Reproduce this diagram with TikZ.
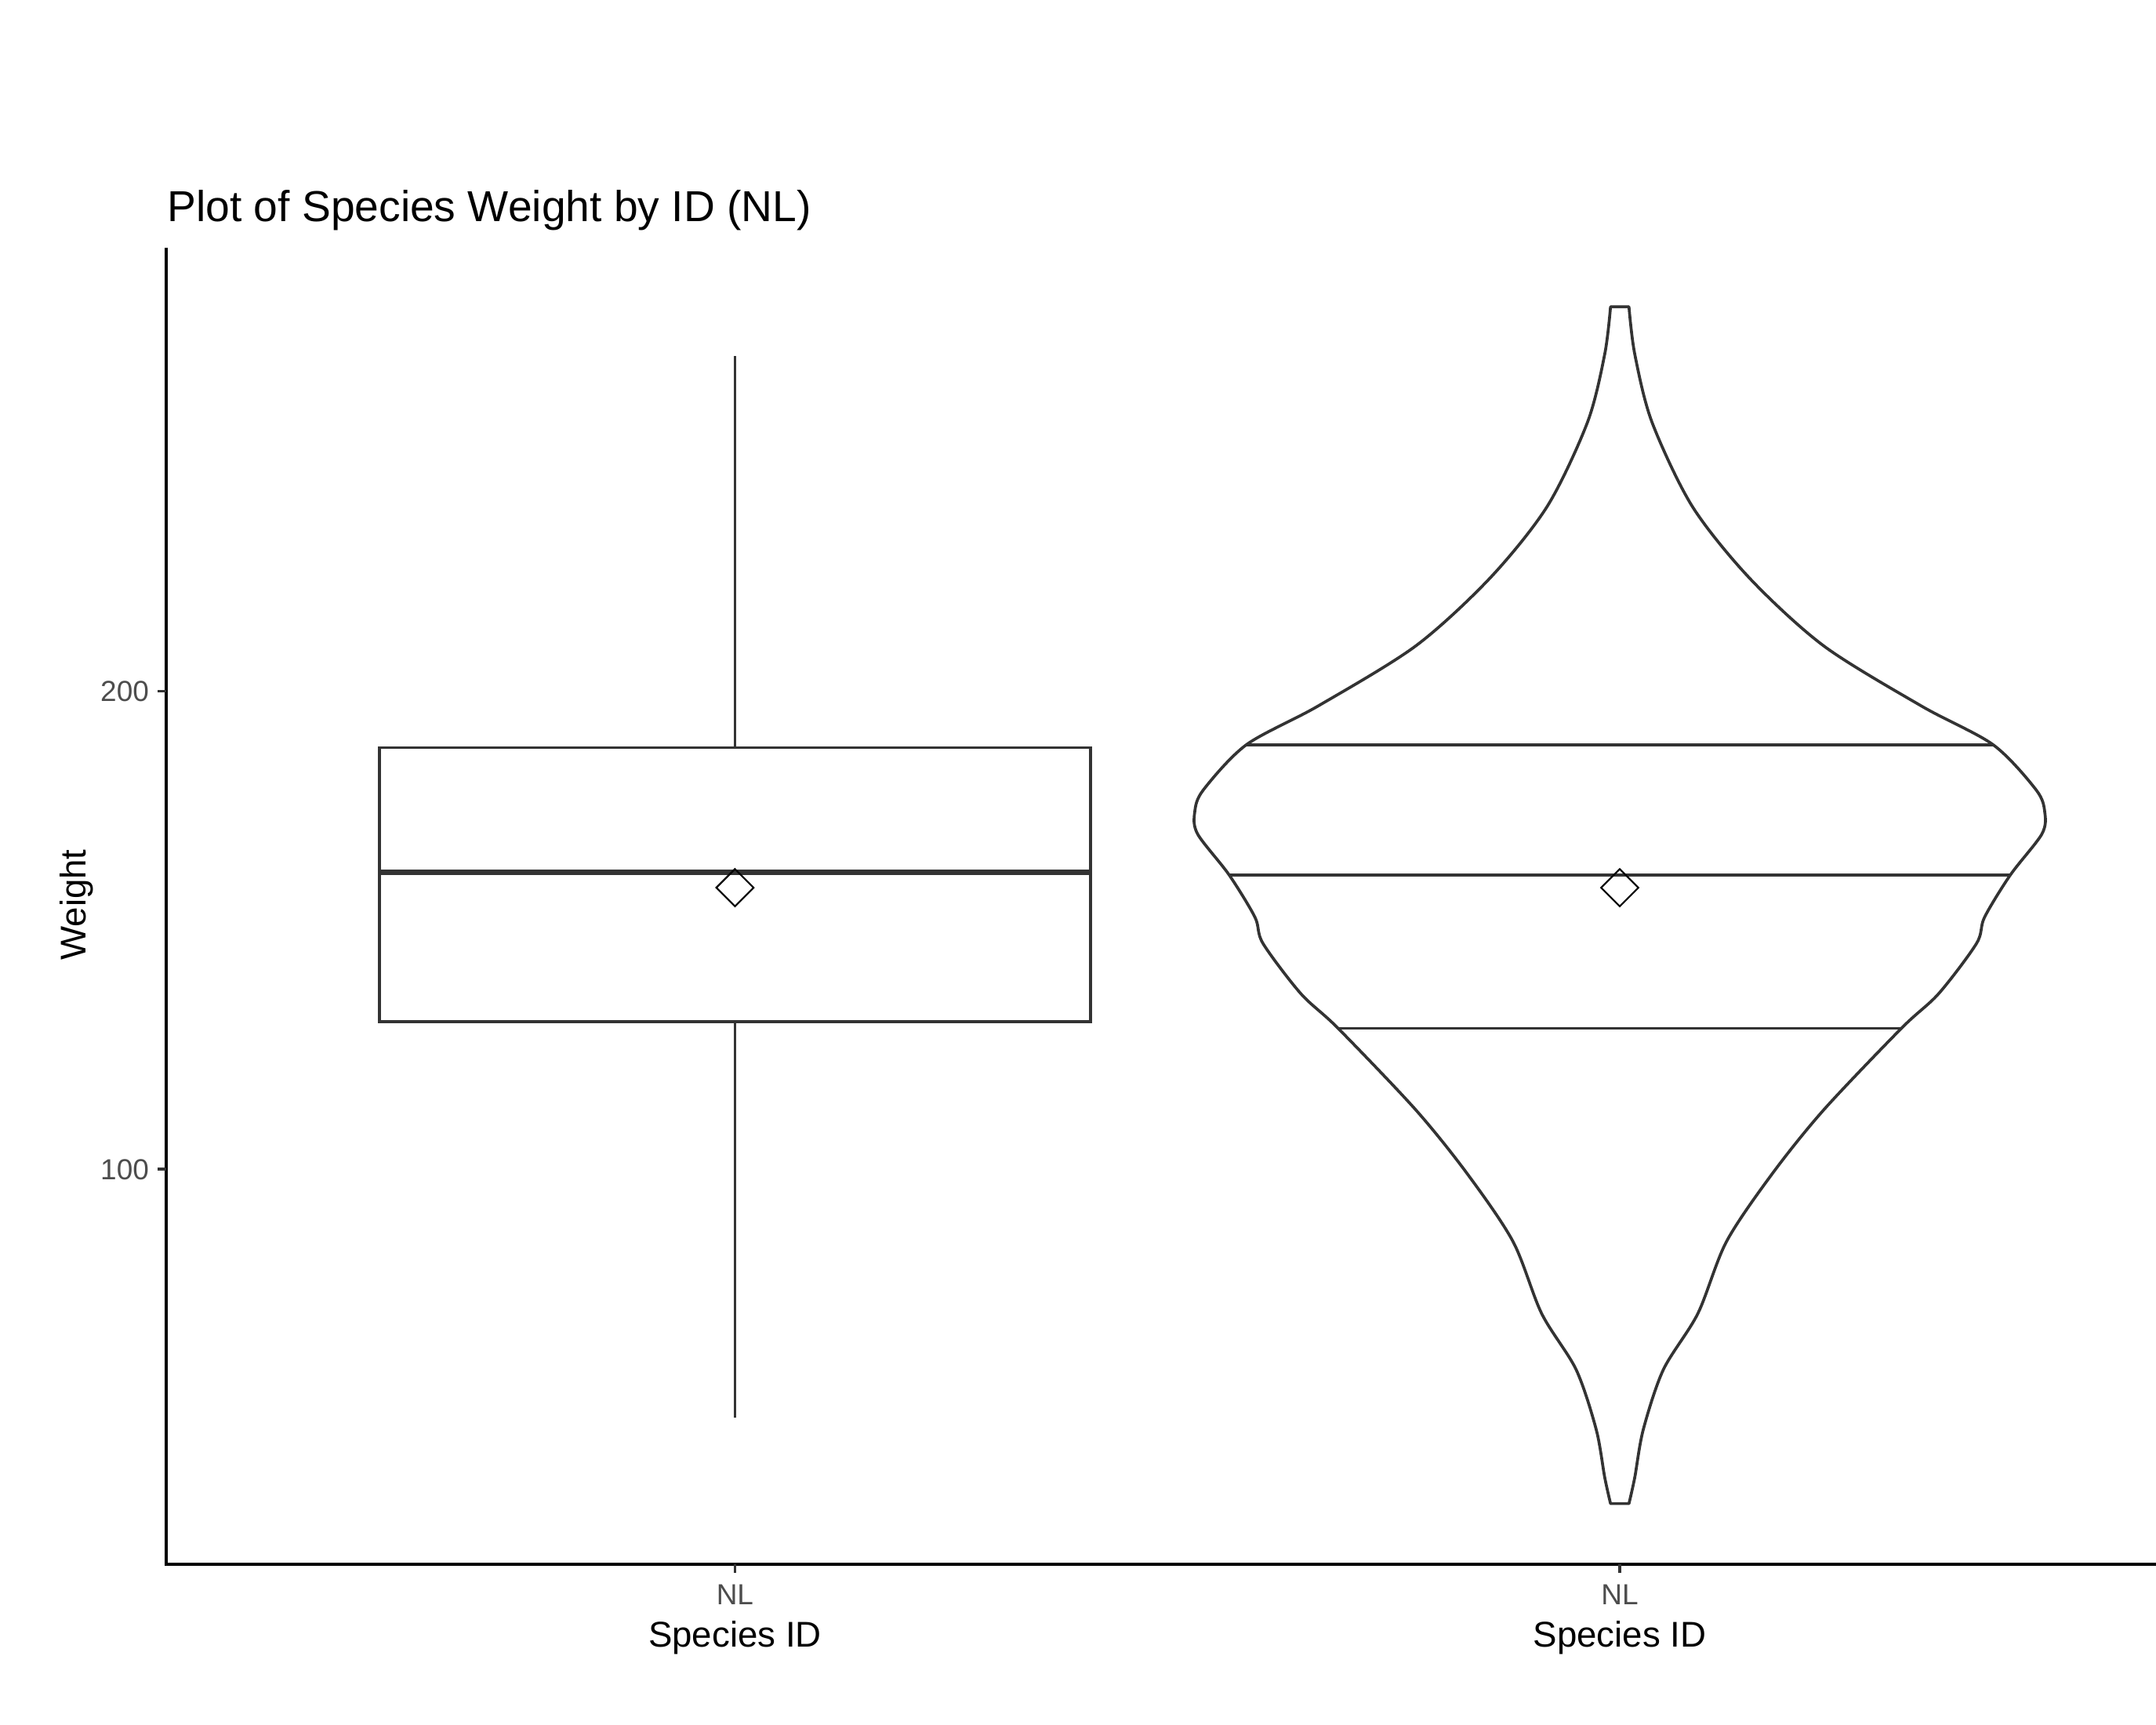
\documentclass[tikz,border=0pt]{standalone}
\usepackage{fontspec}
\setmainfont{Liberation Sans}
\usetikzlibrary{positioning}
\usetikzlibrary{shapes.geometric}

\definecolor{geomgray}{HTML}{333333}
\definecolor{tickgray}{HTML}{4D4D4D}

\tikzset{
  geom/.style={draw=geomgray, line width=0.6pt},
  medianline/.style={draw=geomgray, line width=1.2pt},
  axisline/.style={draw=black, line width=0.6pt},
  tickmark/.style={draw=geomgray, line width=0.6pt},
  ticklab/.style={text=tickgray, font=\fontsize{6}{7}\selectfont, inner sep=0pt},
  axtitle/.style={font=\fontsize{7.4}{9}\selectfont, inner sep=0pt},
  plottitle/.style={font=\fontsize{8.95}{11}\selectfont, inner sep=0pt},
  meanmark/.style={diamond, draw=black, line width=0.35pt, inner sep=0pt,
    minimum width=0.276cm, minimum height=0.276cm, aspect=1},
}

\begin{document}
\begin{tikzpicture}[x=0.01cm, y=-0.01cm]
    \useasboundingbox[fill=white] (0,0) rectangle (1568,1254);

    % axes
    \coordinate (ytop) at (121,180);
    \coordinate (origin) at (121,1137.5);
    \coordinate (xend) at (1568,1137.5);
    \draw[axisline] (ytop) -- (origin) -- (xend);

    % y ticks
    \coordinate (t200) at (121,502.6);
    \coordinate (t100) at (121,850.3);
    \draw[tickmark] (t200) -- ++(-6.5,0);
    \draw[tickmark] (t100) -- ++(-6.5,0);
    \node[ticklab, left=0.12cm of t200] (lab200) {200};
    \node[ticklab, left=0.12cm of t100] (lab100) {100};

    % x ticks
    \coordinate (tbox) at (534.5,1137.5);
    \coordinate (tviolin) at (1178,1137.5);
    \draw[tickmark] (tbox) -- ++(0,6.5);
    \draw[tickmark] (tviolin) -- ++(0,6.5);
    \node[ticklab, below=0.14cm of tbox] (nlbox) {NL};
    \node[ticklab, below=0.14cm of tviolin] (nlviolin) {NL};
    \node[axtitle, below=0.105cm of nlbox] (xtitlebox) {Species ID};
    \node[axtitle, below=0.105cm of nlviolin] (xtitleviolin) {Species ID};

    % titles
    \node[axtitle, rotate=90, anchor=base] (ytitle) at (62.5,658) {Weight};
    \node[plottitle, anchor=base west] (title) at (121,161) {Plot of Species Weight by ID (NL)};

    % boxplot
    \node[geom, rectangle, minimum width=5.17cm, minimum height=1.99cm] (iqrbox) at (534.5,643.2) {};
    \coordinate (whitop) at (534.5,259);
    \coordinate (whibot) at (534.5,1031);
    \coordinate (boxmed) at (534.5,634.4);
    \draw[geom] (iqrbox.north) -- (whitop);
    \draw[geom] (iqrbox.south) -- (whibot);
    \draw[medianline] (iqrbox.west |- boxmed) -- (iqrbox.east |- boxmed);
    \node[meanmark] (meanbox) at (534.5,645.5) {};

    % violin
    \draw[geom, line join=round] plot[smooth] coordinates {
      (1184.7,223.1) (1188.9,257.4) (1201.4,306.9) (1230.6,368) (1272.3,420.3)
      (1326.5,469.8) (1397.4,513.4) (1449.6,541.6) (1480.9,574.5) (1487.1,590.5)
      (1485,606.5) (1462.1,636.2) (1443.3,667) (1437.5,686) (1410,722.5)
      (1382.8,747.8) (1326.5,806.9) (1289,853.4) (1255.6,902.9) (1234.8,955.2)
      (1209.7,996) (1195.1,1039.6) (1188.9,1074.5) (1184.7,1093.4)}
      -- plot[smooth] coordinates {
      (1171.3,1093.4) (1167.1,1074.5) (1160.9,1039.6) (1146.3,996) (1121.2,955.2)
      (1100.4,902.9) (1067,853.4) (1029.5,806.9) (973.2,747.8) (946,722.5)
      (918.5,686) (912.7,667) (893.9,636.2) (871,606.5) (868.9,590.5)
      (875.1,574.5) (906.4,541.6) (958.6,513.4) (1029.5,469.8) (1083.7,420.3)
      (1125.4,368) (1154.6,306.9) (1167.1,257.4) (1171.3,223.1)}
      -- cycle;
    \coordinate (q3l) at (906.4,541.6);
    \coordinate (q3r) at (1449.6,541.6);
    \coordinate (q2l) at (893.9,636.2);
    \coordinate (q2r) at (1462.1,636.2);
    \coordinate (q1l) at (973.2,747.8);
    \coordinate (q1r) at (1382.8,747.8);
    \draw[geom] (q3l) -- (q3r);
    \draw[geom] (q2l) -- (q2r);
    \draw[geom] (q1l) -- (q1r);
    \node[meanmark] (meanviolin) at (1178,645.5) {};
\end{tikzpicture}
\end{document}
